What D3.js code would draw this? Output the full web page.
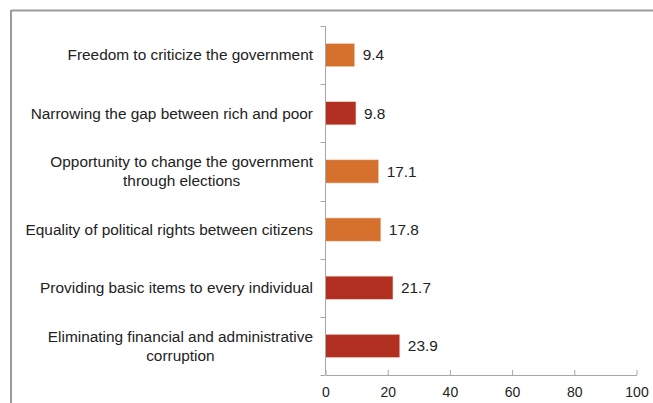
<!DOCTYPE html>
<html>
<head>
<meta charset="utf-8">
<script src="https://cdn.jsdelivr.net/npm/d3@7"></script>
<style>
  html, body { margin: 0; padding: 0; background: #fff; }
  svg { display: block; font-family: "Liberation Sans", Arial, sans-serif; }
</style>
</head>
<body>
<svg id="chart" width="653" height="403"></svg>
<script>
// Priorities, shares in percent (top to bottom)
const categories = [
  ["Freedom to criticize the government"],
  ["Narrowing the gap between rich and poor"],
  ["Opportunity to change the government", "through elections"],
  ["Equality of political rights between citizens"],
  ["Providing basic items to every individual"],
  ["Eliminating financial and administrative", "corruption"]
];
const values = [9.4, 9.8, 17.1, 17.8, 21.7, 23.9];
const colorGroups = ["orange", "red", "orange", "orange", "red", "red"];
const xTicks = [0, 20, 40, 60, 80, 100];

const palette = { orange: "#D5712D", red: "#B23022" };
const axisColor = "#a6a6a6";
const textColor = "#222";
const labelSize = 15.4;
const tickSize = 14;

const svg = d3.select("#chart");

// Frame around the chart area (top and left edges visible)
svg.append("line").attr("x1", 11).attr("x2", 653).attr("y1", 10.5).attr("y2", 10.5)
  .attr("stroke", "#9a9a9a").attr("stroke-width", 2);
svg.append("line").attr("x1", 11).attr("x2", 11).attr("y1", 10).attr("y2", 403)
  .attr("stroke", "#9a9a9a").attr("stroke-width", 2);

const plot = { left: 325.5, right: 636.5, top: 26, bottom: 375 };

const x = d3.scaleLinear().domain([0, 100]).range([plot.left, plot.right]);
const y = d3.scaleBand().domain(d3.range(categories.length))
  .range([plot.top, plot.bottom]).paddingInner(0.6).paddingOuter(0.3);
const yEdges = d3.scaleLinear().domain([0, categories.length]).range([plot.top, plot.bottom]);

// Bars
svg.append("g").selectAll("rect").data(values).join("rect")
  .attr("x", x(0))
  .attr("y", (d, i) => y(i))
  .attr("width", d => x(d) - x(0))
  .attr("height", y.bandwidth())
  .attr("fill", (d, i) => palette[colorGroups[i]])
  .attr("stroke", "#f3d9cc")
  .attr("stroke-width", 0.6);

// Value labels
svg.append("g").selectAll("text").data(values).join("text")
  .attr("x", d => x(d) + 8)
  .attr("y", (d, i) => y(i) + y.bandwidth() / 2)
  .attr("dy", "0.35em")
  .attr("font-size", labelSize)
  .attr("fill", textColor)
  .text(d => d.toFixed(1));

// X axis
const xAxis = svg.append("g")
  .attr("transform", `translate(0,${plot.bottom})`)
  .call(d3.axisBottom(x).tickValues(xTicks).tickSize(5).tickSizeOuter(0).tickPadding(4));
xAxis.select(".domain").attr("stroke", axisColor);
xAxis.selectAll(".tick line").attr("stroke", axisColor).attr("y1", -5).attr("y2", 0);
xAxis.selectAll(".tick text").attr("font-size", tickSize).attr("fill", textColor)
  .attr("font-family", "Liberation Sans, Arial, sans-serif").attr("y", 12);

// Y axis line with category separators
svg.append("line").attr("x1", plot.left).attr("x2", plot.left)
  .attr("y1", plot.top).attr("y2", plot.bottom).attr("stroke", axisColor);
svg.append("g").selectAll("line").data(d3.range(categories.length + 1)).join("line")
  .attr("x1", plot.left - 5).attr("x2", plot.left)
  .attr("y1", d => Math.round(yEdges(d)) + 0.5).attr("y2", d => Math.round(yEdges(d)) + 0.5)
  .attr("stroke", axisColor);

// Category labels: block right-aligned, lines centered within block
const labelRight = 313;
const lineH = 19;
const labels = svg.append("g");
categories.forEach((lines, i) => {
  const g = labels.append("g");
  const cy = y(i) + y.bandwidth() / 2;
  const texts = lines.map((s, k) => g.append("text")
    .attr("font-size", labelSize).attr("fill", textColor)
    .attr("y", cy + (k - (lines.length - 1) / 2) * lineH)
    .attr("dy", "0.35em")
    .text(s));
  const w = d3.max(texts, t => t.node().getComputedTextLength());
  texts.forEach(t => t.attr("text-anchor", "middle").attr("x", labelRight - w / 2));
});
</script>
</body>
</html>
